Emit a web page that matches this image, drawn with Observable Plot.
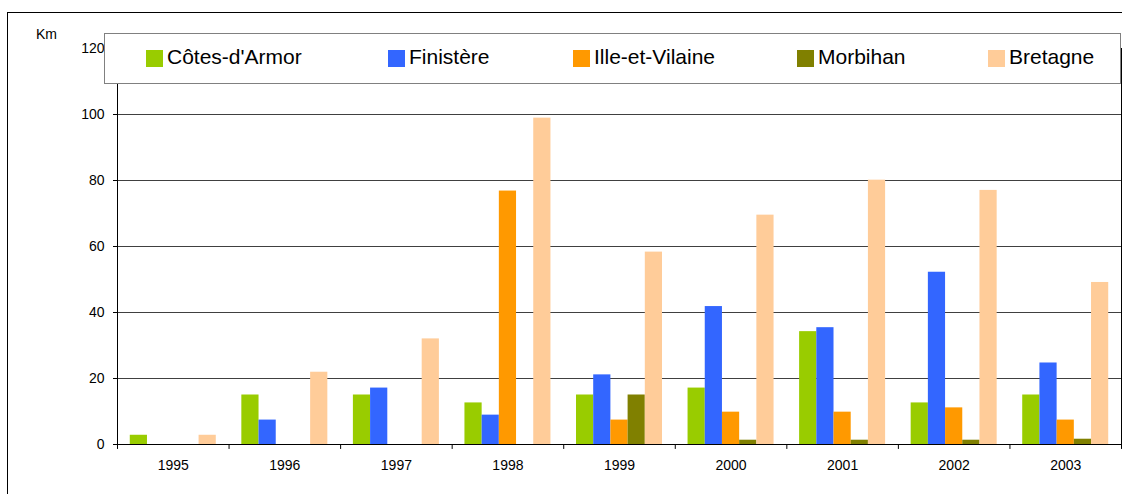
<!DOCTYPE html>
<html>
<head>
<meta charset="utf-8">
<script src="https://cdn.jsdelivr.net/npm/d3@7"></script>
<script src="https://cdn.jsdelivr.net/npm/@observablehq/plot@0.6"></script>
<style>
  html, body { margin: 0; padding: 0; background: #fff; }
  body { width: 1122px; height: 494px; position: relative; overflow: hidden; font-family: "Liberation Sans", Arial, sans-serif; }
  #outer { position: absolute; left: 7px; top: 12px; width: 1300px; height: 700px; border: 1px solid #000; }
  #chart { position: absolute; left: 0; top: 0; }
  #km { position: absolute; left: 36px; top: 27px; font-size: 14px; line-height: 14px; color: #000; }
  #legend { position: absolute; left: 104px; top: 33px; width: 1015px; height: 49px; border: 1px solid #808080; background: #fff; z-index: 2; }
  .item { position: absolute; top: 0; height: 49px; }
  .sw { position: absolute; top: 16px; width: 17px; height: 17px; }
  .lab { position: absolute; top: 12px; left: 21px; font-size: 21px; line-height: 21px; white-space: nowrap; color: #000; }
</style>
</head>
<body>
<div id="outer"></div>
<div id="chart"></div>
<div id="km">Km</div>
<div id="legend"></div>
<script>
// ---- data ----
const years = ["1995", "1996", "1997", "1998", "1999", "2000", "2001", "2002", "2003"];
const seriesNames = ["Côtes-d'Armor", "Finistère", "Ille-et-Vilaine", "Morbihan", "Bretagne"];
const cotesDArmor   = [2.8, 15, 15, 12.6, 15, 17.1, 34.2, 12.6, 15];
const finistere     = [0, 7.4, 17.1, 8.9, 21.1, 41.8, 35.4, 52.2, 24.7];
const illeEtVilaine = [0, 0, 0, 76.8, 7.4, 9.8, 9.8, 11.1, 7.4];
const morbihan      = [0, 0, 0, 0, 15, 1.3, 1.3, 1.3, 1.6];
const bretagne      = [2.8, 21.9, 32, 98.9, 58.3, 69.5, 80.1, 77, 49.1];
const yTicks = [0, 20, 40, 60, 80, 100, 120];

// ---- styles / layout ----
const colors = ["#99cc00", "#3366ff", "#ff9900", "#808000", "#ffcc99"];
const legendLeft = [41, 283, 468, 692, 883]; // offsets inside legend box
const W = 1122, H = 494, ML = 117, MR = 1, MT = 48, MB = 50;
const BW = (W - ML - MR) / years.length;
const BAR = 17.2;
const PAD = (BW - seriesNames.length * BAR) / 2;

const allValues = [cotesDArmor, finistere, illeEtVilaine, morbihan, bretagne];
const rows = [];
seriesNames.forEach((s, i) => years.forEach((y, j) => rows.push({series: s, year: y, value: allValues[i][j]})));

const barMarks = seriesNames.map((s, i) =>
  Plot.barY(rows.filter(r => r.series === s), {
    x: "year", y: "value", fill: colors[i],
    insetLeft: PAD + i * BAR, insetRight: BW - PAD - (i + 1) * BAR
  })
);

const chart = Plot.plot({
  width: W, height: H,
  marginLeft: ML, marginRight: MR, marginTop: MT, marginBottom: MB,
  style: {fontFamily: "'Liberation Sans', Arial, sans-serif", fontSize: "14px", color: "#000", background: "transparent"},
  x: {type: "band", domain: years, paddingInner: 0, paddingOuter: 0, round: false, tickSize: 0, tickPadding: 16, label: null},
  y: {domain: [0, 120], ticks: yTicks, tickSize: 4, tickPadding: 9, label: null, tickFormat: d => String(d)},
  marks: [
    Plot.ruleY(yTicks, {y: d => d, stroke: "#404040", strokeWidth: 1}),
    ...barMarks,
    Plot.ruleX(years, {x: d => d, y1: 0, y2: -1.5, dx: -BW / 2, stroke: "#000"}),
    Plot.ruleX(years.slice(-1), {x: d => d, y1: 0, y2: -1.5, dx: BW / 2, stroke: "#000"}),
    Plot.frame({stroke: "#000"})
  ]
});
document.getElementById("chart").appendChild(chart);

const legend = document.getElementById("legend");
seriesNames.forEach((s, i) => {
  const it = document.createElement("div");
  it.className = "item";
  it.style.left = legendLeft[i] + "px";
  const sw = document.createElement("div");
  sw.className = "sw";
  sw.style.background = colors[i];
  const lab = document.createElement("span");
  lab.className = "lab";
  lab.textContent = s;
  it.appendChild(sw); it.appendChild(lab);
  legend.appendChild(it);
});
</script>
</body>
</html>
